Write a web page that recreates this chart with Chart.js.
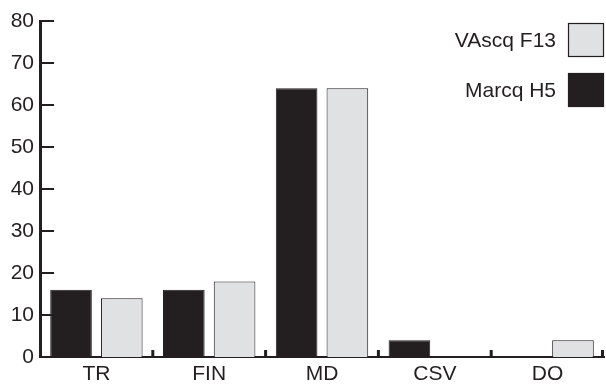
<!DOCTYPE html>
<html>
<head>
<meta charset="utf-8">
<script src="https://cdn.jsdelivr.net/npm/chart.js@4/dist/chart.umd.min.js"></script>
<style>
  html, body { margin: 0; padding: 0; background: #fff; }
  #wrap { width: 606px; height: 385px; position: relative; }
</style>
</head>
<body>
<div id="wrap"><canvas id="c" width="606" height="385"></canvas></div>
<script>
const categories = ['TR', 'FIN', 'MD', 'CSV', 'DO'];
const marcqH5 = [16, 16, 64, 4, 0];
const vascqF13 = [14, 18, 64, 0, 4];
const yTicks = [0, 10, 20, 30, 40, 50, 60, 70, 80];

const INK = '#231f20';
const LIGHT = '#e0e1e2';
const FONT = "'Liberation Sans', Arial, sans-serif";

const innerTicks = {
  id: 'innerTicks',
  afterDraw(chart) {
    const ctx = chart.ctx;
    const xs = chart.scales.x, ys = chart.scales.y;
    const area = chart.chartArea;
    ctx.save();
    ctx.strokeStyle = INK;
    // y ticks pointing right
    ctx.lineWidth = 2;
    yTicks.forEach(v => {
      const py = Math.round(ys.getPixelForValue(v));
      if (v === 0) return;
      ctx.beginPath();
      ctx.moveTo(area.left, py);
      ctx.lineTo(area.left + 14, py);
      ctx.stroke();
    });
    // x ticks at category boundaries pointing up
    const step = xs.getPixelForValue(1) - xs.getPixelForValue(0);
    ctx.lineWidth = 3;
    for (let i = 1; i <= categories.length; i++) {
      const px = xs.getPixelForValue(i - 1) + step / 2;
      ctx.beginPath();
      ctx.moveTo(Math.min(px, area.right - 1.5), area.bottom);
      ctx.lineTo(Math.min(px, area.right - 1.5), area.bottom - 7);
      ctx.stroke();
    }
    // legend inside plot, top right
    const items = [
      { label: 'VAscq F13', fill: LIGHT, yv: 76 },
      { label: 'Marcq H5', fill: INK, yv: 64 }
    ];
    ctx.font = '21px ' + FONT;
    ctx.textAlign = 'right';
    ctx.textBaseline = 'middle';
    const boxes = [{ top: 23 }, { top: 73 }];
    items.forEach((it, i) => {
      const top = boxes[i].top;
      const cy = top + 17;
      ctx.fillStyle = INK;
      ctx.fillText(it.label, 556, cy + 1);
      ctx.fillStyle = it.fill;
      ctx.fillRect(568, top, 36, 34);
      ctx.lineWidth = 1.2;
      ctx.strokeStyle = INK;
      ctx.strokeRect(568.5, top + 0.5, 35, 33);
    });
    ctx.restore();
  }
};

new Chart(document.getElementById('c'), {
  type: 'bar',
  data: {
    labels: categories,
    datasets: [
      {
        label: 'Marcq H5',
        data: marcqH5,
        backgroundColor: INK,
        borderColor: INK,
        borderWidth: 1,
        barPercentage: 0.82,
        categoryPercentage: 0.9
      },
      {
        label: 'VAscq F13',
        data: vascqF13,
        backgroundColor: LIGHT,
        borderColor: INK,
        borderWidth: 1,
        barPercentage: 0.82,
        categoryPercentage: 0.9
      }
    ]
  },
  options: {
    responsive: false,
    animation: false,
    layout: { padding: { top: 21, right: 2, left: 0, bottom: 0 } },
    plugins: {
      legend: { display: false },
      tooltip: { enabled: false }
    },
    scales: {
      x: {
        grid: { display: false, drawTicks: false },
        border: { display: true, color: INK, width: 2 },
        ticks: {
          color: INK,
          font: { family: FONT, size: 21 },
          padding: 5
        },
        afterFit(scale) { scale.height = 28; }
      },
      y: {
        min: 0,
        max: 80,
        afterBuildTicks(scale) { scale.ticks = yTicks.map(v => ({ value: v })); },
        grid: { display: false, drawTicks: false },
        border: { display: true, color: INK, width: 3 },
        ticks: {
          color: INK,
          font: { family: FONT, size: 21 },
          padding: 6
        },
        afterFit(scale) { scale.width = 40; }
      }
    }
  },
  plugins: [innerTicks]
});
</script>
</body>
</html>
